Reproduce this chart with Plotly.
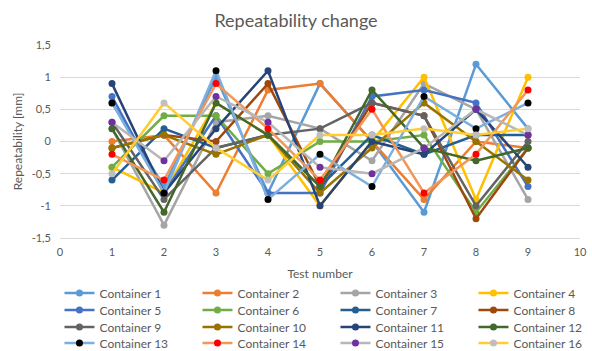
import plotly.graph_objects as go

tests = [1, 2, 3, 4, 5, 6, 7, 8, 9]

container_1 = [0.6, -0.7, 1.0, -0.8, 0.9, 0.0, -1.1, 1.2, 0.2]
container_2 = [0.0, 0.1, -0.8, 0.8, 0.9, 0.0, -0.9, 0.0, -0.1]
container_3 = [0.2, -1.3, 0.3, 0.4, 0.2, -0.3, 0.9, 0.5, -0.9]
container_4 = [-0.4, -0.8, 0.6, 0.1, -1.0, 0.0, 1.0, -0.9, 1.0]
container_5 = [0.7, -0.8, 0.4, -0.8, -0.8, 0.7, 0.8, 0.6, -0.7]
container_6 = [-0.4, 0.4, 0.4, -0.5, 0.0, 0.0, 0.1, -1.1, -0.1]
container_7 = [-0.6, 0.2, -0.1, 0.1, -0.7, 0.1, -0.2, 0.1, 0.1]
container_8 = [-0.1, 0.1, 0.0, 0.9, -0.7, 0.6, 0.4, -1.2, -0.1]
container_9 = [0.3, -0.9, -0.1, 0.1, 0.2, 0.6, 0.4, -1.0, 0.0]
container_10 = [-0.1, 0.1, -0.2, 0.1, -0.8, -0.1, 0.6, 0.0, -0.6]
container_11 = [0.9, -0.8, 0.2, 1.1, -1.0, 0.0, -0.2, 0.5, -0.4]
container_12 = [0.2, -1.1, 0.6, 0.1, -0.7, 0.8, -0.1, -0.3, -0.1]
container_13 = [0.6, -0.8, 1.1, -0.9, -0.2, -0.7, 0.7, 0.2, 0.6]
container_14 = [-0.2, -0.6, 0.9, 0.2, -0.6, 0.5, -0.8, -0.2, 0.8]
container_15 = [0.3, -0.3, 0.7, 0.3, -0.4, -0.5, -0.1, 0.5, 0.1]
container_16 = [-0.5, 0.6, -0.1, -0.6, 0.1, 0.1, 0.2, 0.1, 0.2]

series = [container_1, container_2, container_3, container_4,
          container_5, container_6, container_7, container_8,
          container_9, container_10, container_11, container_12,
          container_13, container_14, container_15, container_16]
names = ["Container 1", "Container 2", "Container 3", "Container 4",
         "Container 5", "Container 6", "Container 7", "Container 8",
         "Container 9", "Container 10", "Container 11", "Container 12",
         "Container 13", "Container 14", "Container 15", "Container 16"]

line_colors = ["#5B9BD5", "#ED7D31", "#A5A5A5", "#FFC000",
               "#4472C4", "#70AD47", "#255E91", "#9E480E",
               "#636363", "#997300", "#264478", "#43682B",
               "#7CAFDD", "#F1975A", "#B7B7B7", "#FFCD33"]
marker_colors = ["#5B9BD5", "#ED7D31", "#A5A5A5", "#FFC000",
                 "#4472C4", "#70AD47", "#255E91", "#9E480E",
                 "#636363", "#997300", "#264478", "#43682B",
                 "#000000", "#FF0000", "#7030A0", "#BFBFBF"]

y_tickvals = [-1.5, -1, -0.5, 0, 0.5, 1, 1.5]
y_ticktext = ["-1,5", "-1", "-0,5", "0", "0,5", "1", "1,5"]
x_tickvals = [0, 1, 2, 3, 4, 5, 6, 7, 8, 9, 10]

FONT = "Lato, 'Open Sans', sans-serif"
TXT = "#595959"

fig = go.Figure()
legend_ids = ["legend", "legend2", "legend3", "legend4"]
for i, (vals, name) in enumerate(zip(series, names)):
    fig.add_trace(go.Scatter(
        x=tests, y=vals, name=name, mode="lines+markers",
        line=dict(color=line_colors[i], width=2.5),
        marker=dict(color=marker_colors[i], size=7),
        legend=legend_ids[i // 4],
    ))

W, H = 592, 351
ml, mr, mt, mb = 60, 12, 45, 113
plot_h = H - mt - mb
row_px = [293, 310, 327, 343]


def paper_y(px):
    return (H - mb - px) / plot_h


legend_common = dict(orientation="h", x=-0.001, xanchor="left", yanchor="middle",
                     entrywidth=93, entrywidthmode="pixels",
                     bgcolor="rgba(0,0,0,0)", font=dict(family=FONT, size=12, color=TXT),
                     itemclick=False, tracegroupgap=0)

fig.update_layout(
    width=W, height=H,
    margin=dict(l=ml, r=mr, t=mt, b=mb, autoexpand=False),
    paper_bgcolor="white", plot_bgcolor="white",
    font=dict(family=FONT, color=TXT),
    title=dict(text="Repeatability change", x=0.5, xanchor="center", y=0.94, yanchor="middle",
               font=dict(family=FONT, size=18, color=TXT)),
    xaxis=dict(range=[0, 10], tickvals=x_tickvals, showgrid=False, zeroline=False,
               showline=True, linecolor="#D9D9D9", linewidth=1, ticks="",
               tickfont=dict(family=FONT, size=11, color=TXT), ticklabelstandoff=4,
               title=dict(text="Test number", font=dict(family=FONT, size=12, color=TXT), standoff=12)),
    yaxis=dict(range=[-1.5, 1.5], tickvals=y_tickvals, ticktext=y_ticktext,
               showgrid=True, gridcolor="#D9D9D9", gridwidth=1, zeroline=False,
               showline=False, ticks="", tickfont=dict(family=FONT, size=11, color=TXT),
               ticklabelstandoff=8,
               title=dict(text="Repeatability [mm]", font=dict(family=FONT, size=12, color=TXT), standoff=6)),
    showlegend=True,
    legend=dict(legend_common, y=paper_y(row_px[0])),
    legend2=dict(legend_common, y=paper_y(row_px[1])),
    legend3=dict(legend_common, y=paper_y(row_px[2])),
    legend4=dict(legend_common, y=paper_y(row_px[3])),
)

fig.write_html("out.html")
